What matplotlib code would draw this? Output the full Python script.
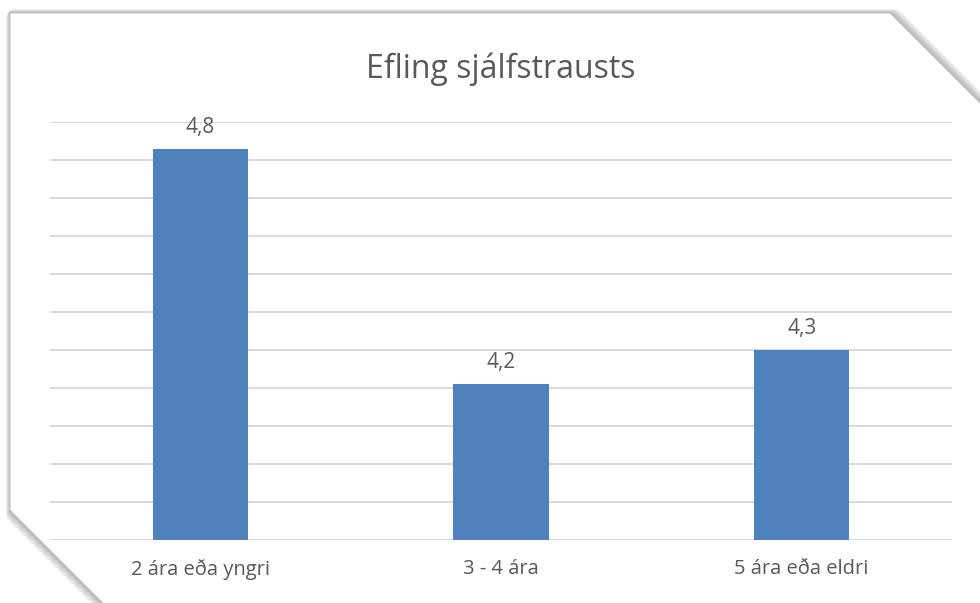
import numpy as np
from matplotlib import pyplot as plt
from matplotlib.patches import Polygon

categories = ["2 ára eða yngri", "3 - 4 ára", "5 ára eða eldri"]
values = [4.83, 4.21, 4.30]
title = "Efling sjálfstrausts"

W, H = 980, 603
plt.rcParams['font.family'] = ['Open Sans', 'DejaVu Sans']

fig = plt.figure(figsize=(W / 100, H / 100), dpi=100)
fig.patch.set_facecolor('white')

# background with the chart frame (cut corners + soft shadow), in pixel coords
bg = fig.add_axes([0, 0, 1, 1])
bg.set_xlim(0, W)
bg.set_ylim(H, 0)
bg.axis('off')

frame = np.array([(10, 13), (890, 13), (990, 113), (990, 620), (120, 620), (10, 510)])
for i in range(8, 0, -1):
    shadow = frame + np.array([1.0, 1.0]) * i * 0.6
    bg.add_patch(Polygon(shadow, closed=True, facecolor='black', edgecolor='black',
                         linewidth=i * 1.6, alpha=0.04, joinstyle='round'))
bg.add_patch(Polygon(frame, closed=True, facecolor='white', edgecolor='#c8c8c8', linewidth=0.8))

# chart area
ax = fig.add_axes([50 / W, (H - 540) / H, (952 - 50) / W, (540 - 122) / H])
ax.patch.set_alpha(0)
x = np.arange(len(categories))
bars = ax.bar(x, values, width=0.316, color='#4f81bd', zorder=3)

ax.set_xlim(-0.5, len(categories) - 0.5)
ax.set_ylim(3.8, 4.9)
ax.set_yticks(np.arange(3.8, 4.95, 0.1))
ax.yaxis.grid(True, color='#d9d9d9', linewidth=1.4, zorder=0)
ax.tick_params(axis='y', left=False, labelleft=False)
ax.tick_params(axis='x', bottom=False, labelsize=14.5, labelcolor='#595959', pad=10)
ax.set_xticks(x)
ax.set_xticklabels(categories)
for spine in ax.spines.values():
    spine.set_visible(False)

for b, v in zip(bars, values):
    ax.annotate(f"{v:.1f}".replace(".", ","), (b.get_x() + b.get_width() / 2, v),
                xytext=(0, 11.5), textcoords='offset points', ha='center', va='baseline',
                fontsize=15, color='#595959')

fig.text(501 / W, 1 - 69 / H, title, ha='center', va='center', fontsize=23, color='#595959')

plt.savefig("out.png", dpi=100)
